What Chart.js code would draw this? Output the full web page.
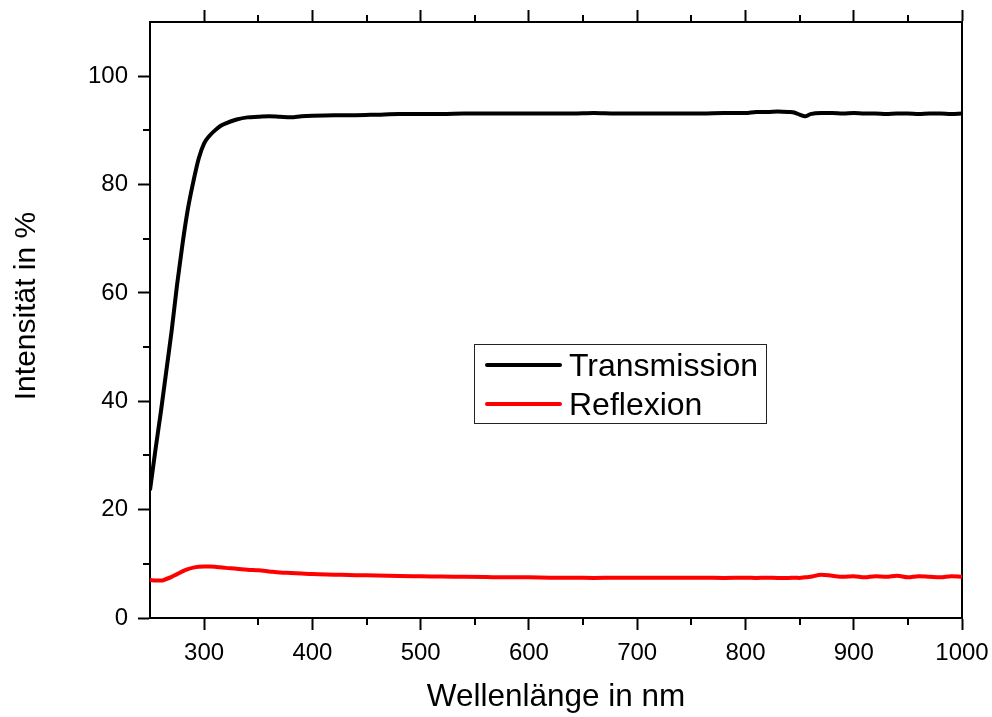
<!DOCTYPE html>
<html>
<head>
<meta charset="utf-8">
<title>Transmission und Reflexion</title>
<script src="https://cdn.jsdelivr.net/npm/chart.js@4/dist/chart.umd.min.js"></script>
<style>
  html, body { margin: 0; padding: 0; background: #fff; }
  #wrap { width: 992px; height: 717px; }
</style>
</head>
<body>
<div id="wrap"><canvas id="spectrumChart"></canvas></div>
<script>
// Wellenlängen in nm
const wavelengths = [
  250, 255, 260, 265, 270, 275, 280, 285, 290, 295,
  300, 305, 310, 315, 320, 330, 340, 350, 360, 370,
  380, 390, 400, 420, 440, 460, 480, 500, 520, 540,
  560, 580, 600, 620, 640, 660, 680, 700, 720, 740,
  760, 780, 800, 810, 820, 830, 840, 845, 850, 855,
  860, 870, 880, 890, 900, 910, 920, 930, 940, 950,
  960, 970, 980, 990, 1000
];

// Transmission in %
const transmission = [
  23.6, 31.0, 38.0, 45.5, 53.0, 61.5, 69.0, 75.5, 80.5, 84.8,
  87.6, 89.0, 90.0, 90.8, 91.3, 92.0, 92.4, 92.5, 92.6, 92.5,
  92.4, 92.6, 92.7, 92.8, 92.8, 92.9, 93.0, 93.0, 93.0, 93.1,
  93.1, 93.1, 93.1, 93.1, 93.1, 93.2, 93.1, 93.1, 93.1, 93.1,
  93.1, 93.2, 93.2, 93.4, 93.4, 93.5, 93.4, 93.3, 92.9, 92.6,
  93.0, 93.2, 93.2, 93.1, 93.2, 93.1, 93.1, 93.0, 93.1, 93.1,
  93.0, 93.1, 93.1, 93.0, 93.1
];

// Reflexion in %
const reflexion = [
  7.0, 6.9, 6.9, 7.2, 7.6, 8.1, 8.6, 9.0, 9.3, 9.45,
  9.5, 9.5, 9.45, 9.35, 9.25, 9.1, 8.9, 8.8, 8.6, 8.4,
  8.3, 8.2, 8.1, 8.0, 7.9, 7.85, 7.75, 7.7, 7.65, 7.6,
  7.55, 7.5, 7.5, 7.45, 7.45, 7.4, 7.45, 7.45, 7.45, 7.45,
  7.45, 7.4, 7.45, 7.4, 7.45, 7.4, 7.4, 7.45, 7.4, 7.5,
  7.6, 8.0, 7.8, 7.6, 7.7, 7.5, 7.7, 7.6, 7.8, 7.5,
  7.7, 7.6, 7.5, 7.7, 7.6
];

const xMajor = 100, xMinor = 50;
const yMajor = 20, yMinor = 10;
const FONT = 'Liberation Sans, Arial, sans-serif';

const toPoints = vals => wavelengths.map((w, i) => ({ x: w, y: vals[i] }));

// Achsenbox fest halten, ohne Zusatzrand für überstehende Beschriftungen
const fixBox = (dim, size) => s => {
  s[dim] = size;
  s.paddingLeft = s.paddingRight = s.paddingTop = s.paddingBottom = 0;
};

// kurze Zwischenstriche (nach außen) auf unterer, oberer und linker Achse
const minorTicks = {
  id: 'minorTicks',
  afterDraw(chart) {
    const { ctx, chartArea } = chart;
    ctx.save();
    ctx.strokeStyle = '#000';
    ctx.lineWidth = 2;
    ctx.beginPath();
    chart.scales.x.ticks.forEach(t => {
      if (t.value % xMajor === 0 || t.value === chart.scales.x.min) return;
      const px = Math.round(chart.scales.x.getPixelForValue(t.value));
      ctx.moveTo(px, chartArea.bottom); ctx.lineTo(px, chartArea.bottom + 7);
      ctx.moveTo(px, chartArea.top); ctx.lineTo(px, chartArea.top - 7);
    });
    chart.scales.y.ticks.forEach(t => {
      if (t.value % yMajor === 0 || t.value === chart.scales.y.max) return;
      const py = Math.round(chart.scales.y.getPixelForValue(t.value));
      ctx.moveTo(chartArea.left, py); ctx.lineTo(chartArea.left - 7, py);
    });
    ctx.stroke();
    ctx.restore();
  }
};

// y-Achsentitel, etwas oberhalb der Mitte
const yTitle = {
  id: 'yTitle',
  afterDraw(chart) {
    const { ctx } = chart;
    ctx.save();
    ctx.translate(27, 306);
    ctx.rotate(-Math.PI / 2);
    ctx.font = '30px ' + FONT;
    ctx.fillStyle = '#000';
    ctx.textAlign = 'center';
    ctx.textBaseline = 'middle';
    ctx.fillText('Intensität in %', 0, 0);
    ctx.restore();
  }
};

// Legende als Kasten im Diagramm
const boxLegend = {
  id: 'boxLegend',
  afterDraw(chart) {
    const { ctx } = chart;
    const bx = 474, by = 344, bw = 292, bh = 79;
    ctx.save();
    ctx.strokeStyle = '#222';
    ctx.lineWidth = 1;
    ctx.strokeRect(bx + 0.5, by + 0.5, bw, bh);
    ctx.font = '32px ' + FONT;
    ctx.textBaseline = 'alphabetic';
    ctx.fillStyle = '#000';
    chart.data.datasets.forEach((ds, i) => {
      const ly = by + 21 + i * 39;
      ctx.strokeStyle = ds.borderColor;
      ctx.lineWidth = 4;
      ctx.lineCap = 'round';
      ctx.beginPath();
      ctx.moveTo(487, ly); ctx.lineTo(560, ly);
      ctx.stroke();
      ctx.fillText(ds.label, 569, ly + 11);
    });
    ctx.restore();
  }
};

const majorTickColor = (major, skip) => c =>
  (c.tick && c.tick.value % major === 0 && c.tick.value !== skip) ? '#000' : 'rgba(0,0,0,0)';

new Chart(document.getElementById('spectrumChart'), {
  type: 'line',
  data: {
    datasets: [
      {
        label: 'Transmission',
        data: toPoints(transmission),
        borderColor: '#000000',
        borderWidth: 4,
        pointRadius: 0,
        cubicInterpolationMode: 'monotone'
      },
      {
        label: 'Reflexion',
        data: toPoints(reflexion),
        borderColor: '#ff0000',
        borderWidth: 4,
        pointRadius: 0,
        cubicInterpolationMode: 'monotone'
      }
    ]
  },
  options: {
    responsive: true,
    maintainAspectRatio: false,
    animation: false,
    layout: { padding: 0 },
    plugins: { legend: { display: false }, tooltip: { enabled: false } },
    scales: {
      x: {
        type: 'linear',
        position: 'bottom',
        min: 250, max: 1000,
        afterFit: fixBox('height', 99),
        border: { display: true, color: '#000', width: 2 },
        grid: { drawOnChartArea: false, tickLength: 12, tickWidth: 2, tickColor: majorTickColor(xMajor, 250) },
        ticks: {
          stepSize: xMinor, autoSkip: false, maxRotation: 0, padding: 9,
          color: '#000', font: { family: FONT, size: 24 },
          callback: v => (v % xMajor === 0 ? String(v) : '')
        },
        title: { display: true, text: 'Wellenlänge in nm', color: '#000', font: { family: FONT, size: 31.5 }, padding: { top: 0, bottom: 1 } }
      },
      x2: {
        type: 'linear',
        position: 'top',
        min: 250, max: 1000,
        afterFit: fixBox('height', 22),
        border: { display: true, color: '#000', width: 2 },
        grid: { drawOnChartArea: false, tickLength: 12, tickWidth: 2, tickColor: majorTickColor(xMajor, 250) },
        ticks: { stepSize: xMinor, autoSkip: false, display: false }
      },
      y: {
        type: 'linear',
        position: 'left',
        min: 0, max: 110,
        afterFit: fixBox('width', 150),
        border: { display: true, color: '#000', width: 2 },
        grid: { drawOnChartArea: false, tickLength: 12, tickWidth: 2, tickColor: majorTickColor(yMajor, 110) },
        ticks: {
          stepSize: yMinor, autoSkip: false, padding: 10,
          color: '#000', font: { family: FONT, size: 24 },
          callback: v => (v % yMajor === 0 && v <= 100 ? String(v) : '')
        }
      },
      y2: {
        type: 'linear',
        position: 'right',
        min: 0, max: 110,
        afterFit: fixBox('width', 30),
        border: { display: true, color: '#000', width: 2 },
        grid: { display: false },
        ticks: { display: false }
      }
    }
  },
  plugins: [minorTicks, yTitle, boxLegend]
});
</script>
</body>
</html>
